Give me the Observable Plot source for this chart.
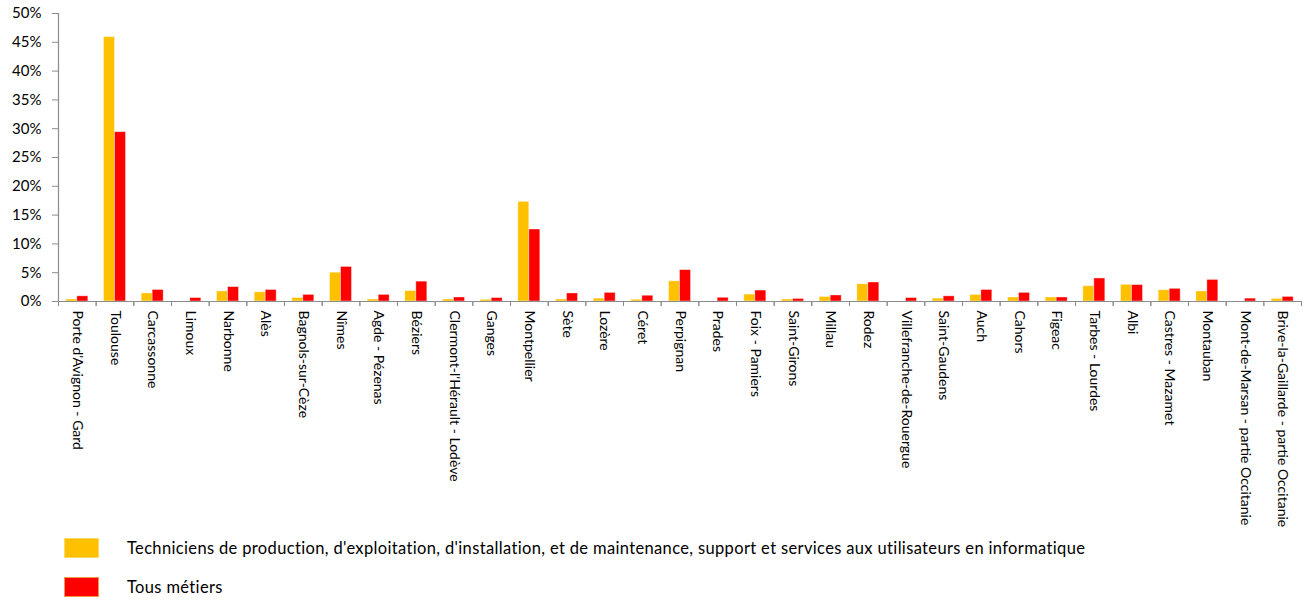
<!DOCTYPE html>
<html><head><meta charset="utf-8">
<script src="https://cdn.jsdelivr.net/npm/d3@7"></script>
<script src="https://cdn.jsdelivr.net/npm/@observablehq/plot@0.6"></script>
<style>
body{margin:0;background:#fff;font-family:Lato,"Open Sans",sans-serif;color:#000;}
#legend{position:relative;height:71px;}
.row{position:absolute;left:64px;display:flex;align-items:center;font-size:16.5px;letter-spacing:0.35px;white-space:nowrap;}
.sw{width:35px;height:20px;box-sizing:border-box;margin-right:28px;}
</style>
</head><body>
<div id="chart"></div>
<div id="legend"></div>
<script>
const categories = ["Porte d'Avignon - Gard","Toulouse","Carcassonne","Limoux","Narbonne","Alès","Bagnols-sur-Cèze","Nîmes","Agde - Pézenas","Béziers","Clermont-l'Hérault - Lodève","Ganges","Montpellier","Sète","Lozère","Céret","Perpignan","Prades","Foix - Pamiers","Saint-Girons","Millau","Rodez","Villefranche-de-Rouergue","Saint-Gaudens","Auch","Cahors","Figeac","Tarbes - Lourdes","Albi","Castres - Mazamet","Montauban","Mont-de-Marsan - partie Occitanie","Brive-la-Gaillarde - partie Occitanie"];
const techniciens = [0.35,45.9,1.4,0,1.75,1.6,0.6,5.0,0.35,1.8,0.35,0.3,17.3,0.35,0.5,0.3,3.5,0,1.2,0.35,0.8,3.0,0,0.5,1.15,0.7,0.7,2.65,2.9,1.95,1.75,0,0.45];
const tousMetiers = [0.9,29.4,2.0,0.6,2.5,2.0,1.15,6.0,1.15,3.45,0.7,0.6,12.5,1.4,1.5,1.0,5.45,0.65,1.9,0.45,1.05,3.3,0.6,0.9,2.0,1.5,0.7,4.0,2.85,2.2,3.75,0.5,0.8];
const seriesNames = ["Techniciens de production, d'exploitation, d'installation, et de maintenance, support et services aux utilisateurs en informatique","Tous métiers"];
const colors = ["#FFC000","#FF0000"];
const legendBorders = ["#FFD966","#F79646"];
const yTicks = [0,0.05,0.10,0.15,0.20,0.25,0.30,0.35,0.40,0.45,0.50];

const W = 1304, H = 530, mL = 58, mR = 3, mT = 13, mB = 229;
const step = (W - mL - mR) / categories.length;
const barW = 11;

const rowsA = categories.map((c,i)=>({cat:c, value:techniciens[i]/100}));
const rowsB = categories.map((c,i)=>({cat:c, value:tousMetiers[i]/100}));

const chart = Plot.plot({
  width: W, height: H,
  marginLeft: mL, marginRight: mR, marginTop: mT, marginBottom: mB,
  style: {fontFamily: "Lato, 'Open Sans', sans-serif", color: "#000", background: "#fff"},
  x: {domain: categories, padding: 0, round: false, axis: null},
  y: {domain: [0, 0.5], axis: null},
  marks: [
    Plot.barY(rowsA, {x: "cat", y: "value", fill: colors[0], stroke: "#fff", strokeOpacity: 0.5, strokeWidth: 0.8, insetLeft: step/2 - barW, insetRight: step/2}),
    Plot.barY(rowsB, {x: "cat", y: "value", fill: colors[1], stroke: "#fff", strokeOpacity: 0.5, strokeWidth: 0.8, insetLeft: step/2, insetRight: step/2 - barW}),
    Plot.ruleY([0], {stroke: "#8c8c8c", strokeWidth: 1.2}),
    Plot.frame({anchor: "left", stroke: "#8c8c8c", strokeWidth: 1.2}),
    Plot.axisY({ticks: yTicks, tickFormat: d3.format(".0%"), tickSize: 6, tickPadding: 11, fontSize: 15, stroke: "#8c8c8c", label: null}),
    Plot.axisX({tickSize: 5, text: null, dx: -step/2, stroke: "#8c8c8c", label: null}),
    Plot.axisX({tickSize: 5, text: null, dx: step/2, stroke: "#8c8c8c", label: null}),
    Plot.text(categories, {x: d => d, text: d => d, frameAnchor: "bottom", rotate: 90, textAnchor: "start", lineAnchor: "middle", dy: 9, fontSize: 14, fill: "#000", lineWidth: Infinity})
  ]
});
document.getElementById("chart").appendChild(chart);

const legend = document.getElementById("legend");
seriesNames.forEach((name,i)=>{
  const row = document.createElement("div");
  row.className = "row";
  row.style.top = (i === 0 ? 8 : 47) + "px";
  const sw = document.createElement("div");
  sw.className = "sw";
  sw.style.background = colors[i];
  sw.style.border = "1px solid " + legendBorders[i];
  const t = document.createElement("span");
  t.textContent = name;
  row.appendChild(sw); row.appendChild(t);
  legend.appendChild(row);
});
</script>
</body></html>
